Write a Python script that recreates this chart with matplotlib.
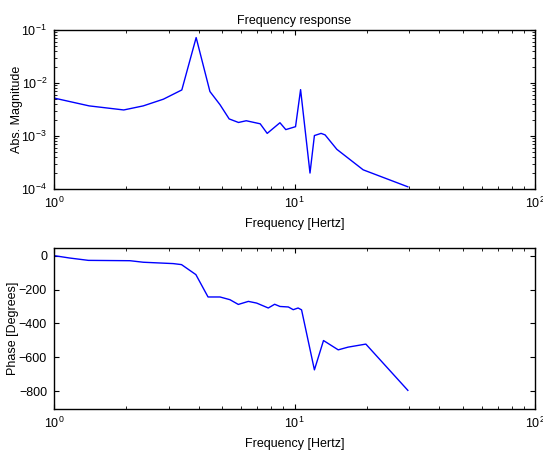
import numpy as np
import matplotlib
matplotlib.use('Agg')
import matplotlib.pyplot as plt

# magnitude curve
mag_freq = [1.0, 1.4, 1.95, 2.35, 2.85, 3.4, 3.9, 4.45, 4.9, 5.35, 5.85, 6.3,
            7.2, 7.7, 8.7, 9.2, 10.1, 10.6, 11.6, 12.1, 12.9, 13.4, 15.0, 19.3, 29.6]
mag = [5.2e-3, 3.7e-3, 3.1e-3, 3.7e-3, 4.95e-3, 7.4e-3, 7.2e-2, 6.9e-3, 3.9e-3,
       2.1e-3, 1.8e-3, 1.94e-3, 1.7e-3, 1.12e-3, 1.78e-3, 1.32e-3, 1.5e-3, 7.5e-3,
       2.0e-4, 1.02e-3, 1.12e-3, 1.05e-3, 5.6e-4, 2.3e-4, 1.1e-4]

# phase curve
phase_freq = [1.0, 1.16, 1.39, 2.07, 2.35, 3.13, 3.39, 3.89, 4.37, 4.9, 5.39, 5.84,
              6.43, 6.96, 7.78, 8.27, 8.7, 9.43, 9.88, 10.35, 10.7, 12.1, 13.2,
              15.2, 16.7, 19.8, 29.6]
phase = [0, -14, -28, -30, -39, -47, -53, -112, -244, -244, -260, -288, -270, -280,
         -309, -287, -300, -303, -319, -309, -320, -674, -501, -556, -540, -522, -795]

plt.rcParams['font.family'] = ['Liberation Sans', 'DejaVu Sans']
plt.rcParams['font.size'] = 9
plt.rcParams['mathtext.fontset'] = 'dejavusans'

fig = plt.figure(figsize=(5.43, 4.5), dpi=100)
ax1 = fig.add_axes([54/543, 1-189/450, 481/543, 159/450])
ax2 = fig.add_axes([54/543, 1-409/450, 481/543, 161/450])

ax1.loglog(mag_freq, mag, 'b', lw=1)
ax1.set_xlim(1, 100)
ax1.set_ylim(1e-4, 1e-1)
ax1.set_title('Frequency response', fontsize=9, pad=4)
ax1.set_xlabel('Frequency [Hertz]', labelpad=5)
ax1.set_ylabel('Abs. Magnitude', labelpad=-1)

ax2.semilogx(phase_freq, phase, 'b', lw=1)
ax2.set_xlim(1, 100)
ax2.set_ylim(-905, 45)
ax2.set_yticks([0, -200, -400, -600, -800])
ax2.set_xlabel('Frequency [Hertz]', labelpad=5)
ax2.set_ylabel('Phase [Degrees]', labelpad=0)

for ax in (ax1, ax2):
    ax.tick_params(which='both', direction='in', top=True, right=True)
    ax.tick_params(which='major', length=3.5, width=0.8, pad=5)
    ax.tick_params(which='minor', length=2, width=0.6)
    for s in ax.spines.values():
        s.set_linewidth(1.0)

fig.savefig('out.png', dpi=100)
